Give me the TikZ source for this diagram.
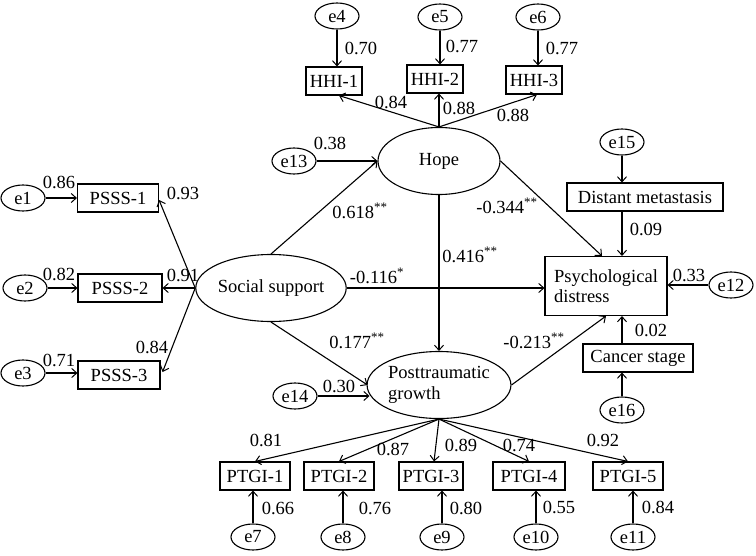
\documentclass[tikz,border=0pt]{standalone}
\usepackage{fontspec}
\setmainfont{Liberation Serif}
\usetikzlibrary{arrows.meta,calc,shapes.geometric}
\begin{document}
\begin{tikzpicture}[x=1pt,y=-1pt,
  font=\fontsize{18.5}{20.5}\selectfont,
  line width=1.1pt,
  arr/.style={-{Straight Barb[length=5pt,width=9pt,line width=1pt]}},
  err/.style={ellipse,draw,inner sep=0pt,minimum width=44pt,minimum height=26pt},
  latent/.style={ellipse,draw,inner sep=0pt,minimum width=122pt,minimum height=67pt},
  obs/.style={rectangle,draw,inner sep=0pt,minimum height=28pt},
  lbl/.style={inner sep=0pt,text height=12.5pt,text depth=0pt}]
\useasboundingbox (0,0) rectangle (756,555);

% latent variables
\node[latent] (hope) at (439,161) {Hope};
\node[latent] (ss) at (271,288) {Social support};
\node[latent,align=left] (ptg) at (439,385) {Posttraumatic\\growth};

% HHI
\node[obs,minimum width=56pt] (h1) at (334,81) {HHI-1};
\node[obs,minimum width=56pt] (h2) at (435,79) {HHI-2};
\node[obs,minimum width=56pt] (h3) at (534,80) {HHI-3};
\node[err] (e4) at (337,16) {e4};
\node[err] (e5) at (440,17) {e5};
\node[err] (e6) at (538,17) {e6};

% PSSS
\node[obs,minimum width=81pt] (p1) at (118,198) {PSSS-1};
\node[obs,minimum width=84pt] (p2) at (120,288) {PSSS-2};
\node[obs,minimum width=82pt] (p3) at (119,375) {PSSS-3};
\node[err] (e1) at (23,198) {e1};
\node[err] (e2) at (25,288) {e2};
\node[err] (e3) at (23,373) {e3};

% other errors
\node[err] (e13) at (294,161) {e13};
\node[err] (e14) at (295,396) {e14};

% right side
\node[obs,minimum width=122pt,minimum height=59pt,align=left] (pd) at (606,286) {Psychological\\distress};
\node[obs,minimum width=156pt] (dm) at (645,197) {Distant metastasis};
\node[obs,minimum width=110pt] (cs) at (638,358) {Cancer stage};
\node[err] (e15) at (622,142) {e15};
\node[err] (e12) at (731,285) {e12};
\node[err] (e16) at (622,410) {e16};

% PTGI
\node[obs,minimum width=70pt] (t1) at (255,476) {PTGI-1};
\node[obs,minimum width=70pt] (t2) at (339,476) {PTGI-2};
\node[obs,minimum width=64pt] (t3) at (431,476) {PTGI-3};
\node[obs,minimum width=72pt] (t4) at (529,476) {PTGI-4};
\node[obs,minimum width=70pt] (t5) at (628,476) {PTGI-5};
\node[err] (e7) at (253,537) {e7};
\node[err] (e8) at (343,537) {e8};
\node[err] (e9) at (442,537) {e9};
\node[err] (e10) at (536,537) {e10};
\node[err] (e11) at (633,537) {e11};

% arrows: HHI
\draw[arr] (e4) -- (e4 |- h1.north);
\draw[arr] (e5) -- (e5 |- h2.north);
\draw[arr] (e6) -- (e6 |- h3.north);
\draw[arr] (hope.north) -- ($(h1.south)+(5,0)$);
\draw[arr] (hope.north) -- (hope.north |- h2.south);
\draw[arr] (hope.north) -- ($(h3.south)+(3,0)$);

% arrows: PSSS
\draw[arr] (e1.east) -- (p1.west);
\draw[arr] (e2.east) -- (p2.west);
\draw[arr] (e3.east) -- (e3.east -| p3.west);
\draw[arr] (ss.west) -- ($(p1.east)+(0,2)$);
\draw[arr] (ss.west) -- (p2.east);
\draw[arr] (ss.west) -- ($(p3.east)+(2,-3)$);

% structural paths
\draw[arr] (e13.east) -- (hope.west);
\draw[arr] (ss.north) -- (hope.west);
\draw[arr] (ss.south) -- ($(ptg.west)+(1,0)$);
\draw[arr] (e14.east) -- ($(e14.east -| ptg.west)+(3,0)$);
\draw[arr] (hope.south) -- (ptg.north);
\draw[arr] (ss.east) -- (ss.east -| pd.west);
\draw[arr] (hope.east) -- ($(pd.north)+(-4,0)$);
\draw[arr] (ptg.east) -- (pd.south);

% right side
\draw[arr] (e15) -- (e15 |- dm.north);
\draw[arr] (dm.south -| e15) -- (pd.north -| e15);
\draw[arr] (e12.west) -- (e12.west -| pd.east);
\draw[arr] (cs.north -| e16) -- (pd.south -| e16);
\draw[arr] (e16) -- (e16 |- cs.south);

% PTGI
\draw[arr] (ptg.south) -- (t1.north);
\draw[arr] (ptg.south) -- (t2.north);
\draw[arr] (ptg.south) -- ($(t3.north)+(3,0)$);
\draw[arr] (ptg.south) -- (t4.north);
\draw[arr] (ptg.south) -- (t5.north);
\draw[arr] (e7) -- (e7 |- t1.south);
\draw[arr] (e8) -- (e8 |- t2.south);
\draw[arr] (e9) -- (e9 |- t3.south);
\draw[arr] (e10) -- (e10 |- t4.south);
\draw[arr] (e11) -- (e11 |- t5.south);

% labels
\node[lbl] (l4) at (361,48) {0.70};
\node[lbl] (l5) at (462,46) {0.77};
\node[lbl] (l6) at (562,48) {0.77};
\node[lbl] (lh1) at (391,102) {0.84};
\node[lbl] (lh2) at (459,108) {0.88};
\node[lbl] (lh3) at (513,115) {0.88};
\node[lbl] (l1) at (59,182) {0.86};
\node[lbl] (l2) at (59,274) {0.82};
\node[lbl] (l3) at (59,360) {0.71};
\node[lbl] (lp1) at (183,193) {0.93};
\node[lbl] (lp2) at (183,275) {0.91};
\node[lbl] (lp3) at (152,347) {0.84};
\node[lbl] (l13) at (330,143) {0.38};
\node[lbl] (lsh) at (360,212) {0.618\textsuperscript{**}};
\node[lbl] (lhp) at (470,256) {0.416\textsuperscript{**}};
\node[lbl] (lsd) at (377,277) {-0.116\textsuperscript{*}};
\node[lbl] (lsp) at (357,342) {0.177\textsuperscript{**}};
\node[lbl] (lhd) at (507,207) {-0.344\textsuperscript{**}};
\node[lbl] (lpd) at (534,342) {-0.213\textsuperscript{**}};
\node[lbl] (l15) at (646,229) {0.09};
\node[lbl] (l12) at (689,275) {0.33};
\node[lbl] (l16) at (651,330) {0.02};
\node[lbl] (l14) at (339,386) {0.30};
\node[lbl] (lt1) at (266,440) {0.81};
\node[lbl] (lt2) at (393,449) {0.87};
\node[lbl] (lt3) at (461,445) {0.89};
\node[lbl] (lt4) at (519,445) {0.74};
\node[lbl] (lt5) at (603,440) {0.92};
\node[lbl] (l7) at (278,508) {0.66};
\node[lbl] (l8) at (375,508) {0.76};
\node[lbl] (l9) at (466,508) {0.80};
\node[lbl] (l10) at (559,507) {0.55};
\node[lbl] (l11) at (658,507) {0.84};
\end{tikzpicture}
\end{document}
